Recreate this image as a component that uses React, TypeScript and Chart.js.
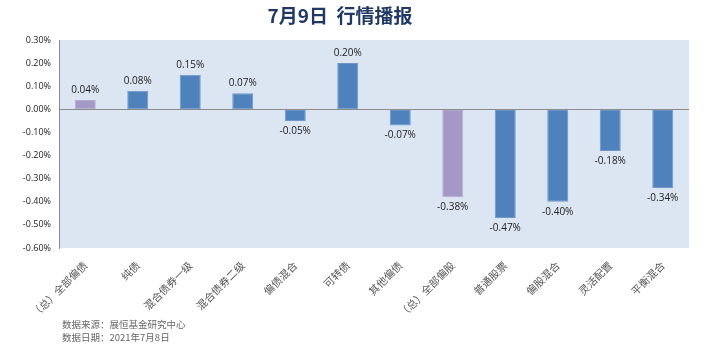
import React, { useEffect, useRef } from "react";
import { Chart, registerables } from "chart.js";

Chart.register(...registerables);

const categories = [
  "（总）全部偏债",
  "纯债",
  "混合债券一级",
  "混合债券二级",
  "偏债混合",
  "可转债",
  "其他偏债",
  "（总）全部偏股",
  "普通股票",
  "偏股混合",
  "灵活配置",
  "平衡混合",
];
const values = [0.04, 0.08, 0.15, 0.07, -0.05, 0.2, -0.07, -0.38, -0.47, -0.4, -0.18, -0.34];
const isTotal = [true, false, false, false, false, false, false, true, false, false, false, false];
const titleText = "7月9日  行情播报";
const footerLines = ["数据来源：展恒基金研究中心", "数据日期：2021年7月8日"];

const BLUE = "#4F81BD";
const PURPLE = "#A597C6";

export default function App() {
  const ref = useRef<HTMLCanvasElement | null>(null);
  useEffect(() => {
    document.body.style.margin = "0";
    const canvas = ref.current!;
    const deco = {
      id: "deco",
      beforeDraw(chart: any) {
        const { ctx, chartArea } = chart;
        ctx.save();
        ctx.fillStyle = "#ffffff";
        ctx.fillRect(0, 0, chart.width, chart.height);
        ctx.fillStyle = "#DCE6F2";
        ctx.fillRect(chartArea.left, chartArea.top, chartArea.right - chartArea.left, chartArea.bottom - chartArea.top);
        ctx.restore();
      },
      afterDatasetsDraw(chart: any) {
        const { ctx, chartArea, scales } = chart;
        ctx.save();
        const y0 = Math.round(scales.y.getPixelForValue(0)) + 0.5;
        ctx.strokeStyle = "#8C8C8C";
        ctx.lineWidth = 1;
        ctx.beginPath();
        ctx.moveTo(chartArea.left, y0);
        ctx.lineTo(chartArea.right, y0);
        ctx.stroke();
        const meta = chart.getDatasetMeta(0);
        ctx.font = "10px 'Open Sans', 'Liberation Sans', sans-serif";
        ctx.fillStyle = "#222";
        ctx.textAlign = "center";
        meta.data.forEach((bar: any, i: number) => {
          const v = values[i];
          const txt = v.toFixed(2) + "%";
          if (v >= 0) {
            ctx.textBaseline = "bottom";
            ctx.fillText(txt, bar.x, bar.y - 5);
          } else {
            ctx.textBaseline = "top";
            ctx.fillText(txt, bar.x, bar.y + 5);
          }
        });
        ctx.font = "bold 19px 'Noto Sans CJK SC', sans-serif";
        ctx.fillStyle = "#1F3864";
        ctx.textAlign = "center";
        ctx.textBaseline = "middle";
        ctx.fillText(titleText, 340, 16);
        ctx.font = "9.5px 'Noto Sans CJK SC', sans-serif";
        ctx.fillStyle = "#666";
        ctx.textAlign = "left";
        ctx.textBaseline = "middle";
        footerLines.forEach((l, i) => ctx.fillText(l, 62, 324 + i * 13));
        ctx.restore();
      },
    };
    const chart = new Chart(canvas, {
      type: "bar",
      data: {
        labels: categories,
        datasets: [
          {
            data: values,
            backgroundColor: values.map((_, i) => (isTotal[i] ? PURPLE : BLUE)),
            borderColor: values.map((_, i) => (isTotal[i] ? "#B9ADD3" : "#6E98CB")),
            borderWidth: 1,
            borderSkipped: false,
            barPercentage: 0.4,
            categoryPercentage: 1,
          },
        ],
      },
      options: {
        animation: false,
        responsive: false,
        maintainAspectRatio: false,
        layout: { padding: { top: 40, right: 29, left: 0, bottom: 0 } },
        plugins: { legend: { display: false }, tooltip: { enabled: false }, title: { display: false } },
        scales: {
          x: {
            grid: { display: false, drawTicks: false },
            border: { display: false },
            ticks: {
              maxRotation: 45,
              minRotation: 45,
              padding: 11,
              autoSkip: false,
              color: "#555",
              font: { size: 10.5, family: "'Noto Sans CJK SC', sans-serif" },
            },
            afterFit(scale: any) {
              scale.height = 103;
            },
          },
          y: {
            min: -0.6,
            max: 0.3,
            grid: { display: false, drawTicks: false },
            border: { display: true, color: "#8C8C8C", width: 1 },
            ticks: {
              stepSize: 0.1,
              padding: 8,
              color: "#222",
              font: { size: 9, family: "'Open Sans', 'Liberation Sans', sans-serif" },
              callback: (v: any) => Number(v).toFixed(2) + "%",
            },
            afterFit(scale: any) {
              scale.width = 59;
            },
          },
        },
      },
      plugins: [deco],
    });
    return () => chart.destroy();
  }, []);
  return <canvas ref={ref} width={718} height={351} style={{ display: "block" }} />;
}
